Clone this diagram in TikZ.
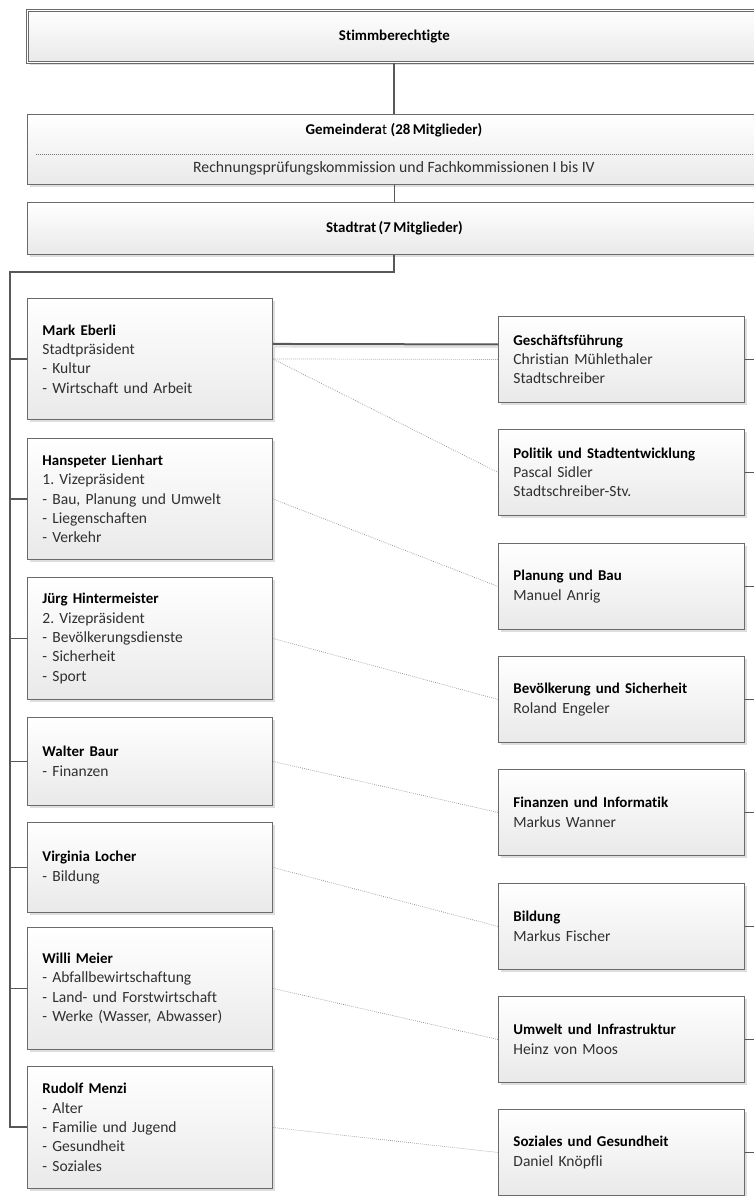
\documentclass[tikz,border=0pt]{standalone}
\usepackage{fontspec}
\setmainfont{Carlito}[Ligatures={TeX,NoCommon}, BoldFeatures={WordSpace=0.75}]
\usetikzlibrary{shadows,calc}
\definecolor{boxline}{HTML}{6A6A6A}
\definecolor{boxbot}{HTML}{E9E9E9}
\definecolor{bodyc}{HTML}{303030}
\definecolor{dotc}{HTML}{8C8C8C}
\definecolor{busc}{HTML}{585858}
\frenchspacing
\newcommand\bxfont{\fontsize{15.6}{19.4}\selectfont\frenchspacing}
\newcommand\topfont{\fontsize{15.8}{17}\selectfont\frenchspacing}
\newcommand\tb[1]{{\fontsize{15}{19.4}\selectfont\bfseries\color{black}#1}}
\begin{document}
\begin{tikzpicture}[x=1bp,y=-1bp,
  box/.style={draw=boxline, line width=0.9bp, top color=white, bottom color=boxbot,
    drop shadow={shadow xshift=2.5bp, shadow yshift=-2.5bp, fill=black!13, opacity=1},
    inner sep=0pt, anchor=north west, text=bodyc},
  lbox/.style={box, text width=215bp, inner xsep=15bp, align=left, minimum height=#1, font=\bxfont},
  rbox/.style={box, text width=216bp, inner xsep=15bp, align=left, minimum height=86bp, font=\bxfont},
  wide/.style={box, minimum width=734bp, minimum height=#1, font=\topfont, text=black},
  bus/.style={draw=busc, line width=2bp},
  tick/.style={draw=busc, line width=1.2bp},
  dots/.style={draw=dotc, line width=0.7bp, dash pattern=on 0.7bp off 1.3bp},
  ttl/.style={font=\topfont, text=black, inner sep=0pt}
]
\useasboundingbox (0,0) rectangle (754,1196);
\clip (0,0) rectangle (754,1196);

% top boxes
\node[wide=52bp, double=white, double distance=1.3bp] (stimm) at (27,10) {\tb{Stimmberechtigte}};
\node[wide=70bp] (gem) at (27,114) {};
\node[ttl] (gemt) at (394,130) {\tb{Gemeindera}{\fontsize{15}{17}\selectfont t} \tb{(28 Mitglieder)}};
\coordinate (dl) at (36,154);
\coordinate (dr) at (761,154);
\draw[dots, draw=black!55] (dl) -- (dr);
\node[ttl, text=bodyc] (gemk) at (394,168) {Rechnungsprüfungskommission und Fachkommissionen I bis IV};
\node[wide=52bp] (stadt) at (27,202) {\tb{Stadtrat (7 Mitglieder)}};

% left boxes
\node[lbox=121bp] (me) at (27,298) {\tb{Mark Eberli}\\Stadtpräsident\\- Kultur\\- Wirtschaft und Arbeit};
\node[lbox=121bp] (hl) at (27,438) {\tb{Hanspeter Lienhart}\\1. Vizepräsident\\- Bau, Planung und Umwelt\\- Liegenschaften\\- Verkehr};
\node[lbox=122bp] (jh) at (27,577) {\tb{Jürg Hintermeister}\\2. Vizepräsident\\- Bevölkerungsdienste\\- Sicherheit\\- Sport};
\node[lbox=88bp] (wb) at (27,717) {\tb{Walter Baur}\\- Finanzen};
\node[lbox=90bp] (vl) at (27,822) {\tb{Virginia Locher}\\- Bildung};
\node[lbox=122bp] (wm) at (27,927) {\tb{Willi Meier}\\- Abfallbewirtschaftung\\- Land- und Forstwirtschaft\\- Werke (Wasser, Abwasser)};
\node[lbox=122bp] (rm) at (27,1066) {\tb{Rudolf Menzi}\\- Alter\\- Familie und Jugend\\- Gesundheit\\- Soziales};

% right boxes
\node[rbox] (gf) at (498,316) {\tb{Geschäftsführung}\\Christian Mühlethaler\\Stadtschreiber};
\node[rbox] (pol) at (498,429) {\tb{Politik und Stadtentwicklung}\\Pascal Sidler\\Stadtschreiber-Stv.};
\node[rbox] (plan) at (498,543) {\tb{Planung und Bau}\\Manuel Anrig};
\node[rbox] (bev) at (498,656) {\tb{Bevölkerung und Sicherheit}\\Roland Engeler};
\node[rbox] (fin) at (498,769) {\tb{Finanzen und Informatik}\\Markus Wanner};
\node[rbox] (bil) at (498,883) {\tb{Bildung}\\Markus Fischer};
\node[rbox] (umw) at (498,996) {\tb{Umwelt und Infrastruktur}\\Heinz von Moos};
\node[rbox] (soz) at (498,1109) {\tb{Soziales und Gesundheit}\\Daniel Knöpfli};

% vertical hierarchy
\draw[bus] (stimm.south) -- (gem.north);
\draw[tick] (gem.south) -- (stadt.north);
\coordinate (bt) at (10,272);
\draw[bus] (stadt.south) |- (bt) -- (bt |- rm.west) -- (rm.west);
\foreach \n in {me,hl,jh,wb,vl,wm}
  \draw[tick] (bt |- \n.west) -- (\n.west);

% Stadtpraesident to Geschaeftsfuehrung
\draw[draw=black!12, line width=2bp] ([yshift=12.5bp]me.east) -- ([yshift=12.5bp]gf.west);
\draw[bus] ([yshift=15bp]me.east) -- ([yshift=15bp]gf.west);

% dotted assignments
\draw[dots] (me.east) -- (gf.west);
\draw[dots] (me.east) -- (pol.west);
\draw[dots] (hl.east) -- (plan.west);
\draw[dots] (jh.east) -- (bev.west);
\draw[dots] (wb.east) -- (fin.west);
\draw[dots] (vl.east) -- (bil.west);
\draw[dots] (wm.east) -- (umw.west);
\draw[dots] (rm.east) -- (soz.west);

% right-hand connectors leaving the picture
\coordinate (rb) at (760,0);
\foreach \n in {gf,pol,plan,bev,fin,bil,umw,soz}
  \draw[tick] (\n.east) -- (\n.east -| rb);
\end{tikzpicture}
\end{document}
